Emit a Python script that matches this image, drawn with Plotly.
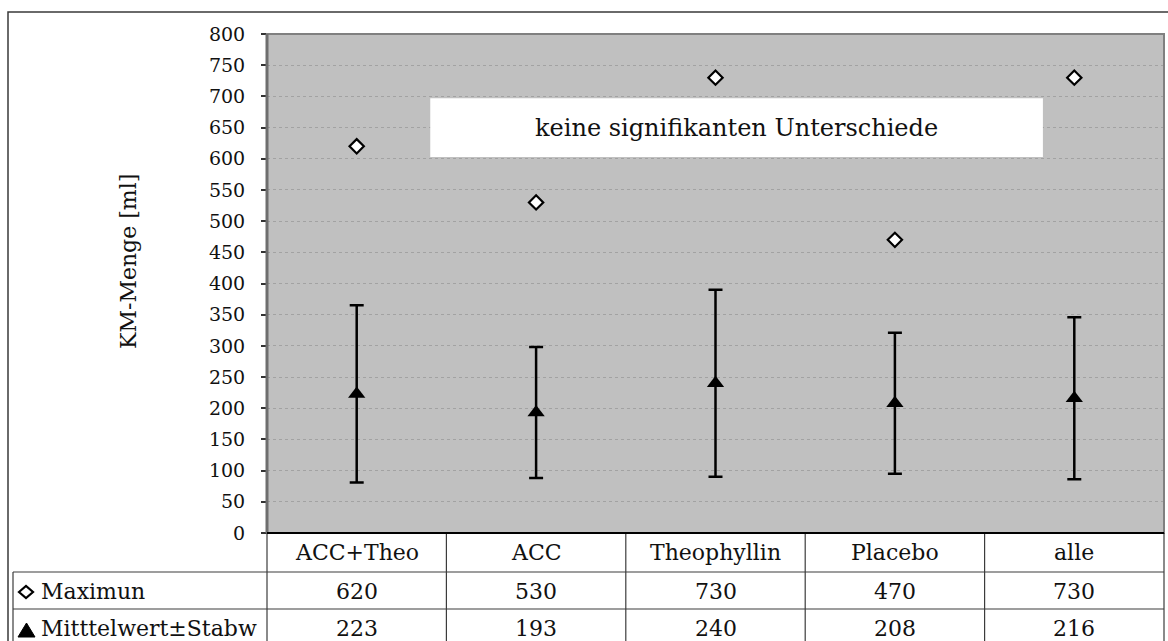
import plotly.graph_objects as go

# Gruppen und Kennwerte der KM-Menge [ml]
categories = ["ACC+Theo", "ACC", "Theophyllin", "Placebo", "alle"]
maximum = [620, 530, 730, 470, 730]
mean = [223, 193, 240, 208, 216]
sd = [142, 105, 150, 113, 130]

row_labels = ["Maximun", "Mitttelwert±Stabw"]
y_ticks = list(range(0, 801, 50))

W, H = 1168, 641
L, R, T, B = 267, 1164, 34, 533   # plot area in pixels
FONT = "DejaVu Serif, Georgia, serif"


def xp(px):
    return (px - L) / (R - L)


def yp(py):
    return (B - py) / (B - T)


xs = list(range(len(categories)))

fig = go.Figure()

fig.add_trace(go.Scatter(
    x=xs, y=mean, mode="markers", name="Mittelwert±Stabw",
    marker=dict(symbol="triangle-up", size=15, color="black"),
    error_y=dict(type="data", array=sd, visible=True,
                 color="black", thickness=2.5, width=7),
))
fig.add_trace(go.Scatter(
    x=xs, y=maximum, mode="markers", name="Maximun",
    marker=dict(symbol="diamond", size=11, color="white",
                line=dict(color="black", width=2.2)),
))

shapes = []
annotations = []

# outer frame of the chart
shapes.append(dict(type="rect", xref="paper", yref="paper",
                   x0=xp(8), x1=xp(1180), y0=yp(12), y1=yp(660),
                   line=dict(color="#3a3a3a", width=1.5), layer="below"))

# white note box
shapes.append(dict(type="rect", xref="x", yref="y",
                   x0=0.41, x1=3.825, y0=603, y1=697,
                   fillcolor="white", line=dict(width=0), layer="above"))
annotations.append(dict(x=2.117, y=650, xref="x", yref="y",
                        xanchor="center", yanchor="middle",
                        text="keine signifikanten Unterschiede",
                        showarrow=False,
                        font=dict(family=FONT, size=24, color="#111")))

# plot area border
shapes.append(dict(type="rect", xref="paper", yref="paper",
                   x0=0, x1=1, y0=0, y1=1,
                   line=dict(color="#808080", width=2)))
shapes.append(dict(type="line", xref="paper", yref="paper",
                   x0=0, x1=0, y0=0, y1=1,
                   line=dict(color="#6e6e6e", width=3)))

# data table below the plot
row_bounds = [533, 572, 609, 660]
col_w = (R - L) / len(categories)
col_edges = [L + i * col_w for i in range(len(categories) + 1)]
line_style = dict(color="#3c3c3c", width=1.2)

for yb in row_bounds[1:3]:
    shapes.append(dict(type="line", xref="paper", yref="paper",
                       x0=xp(13), x1=xp(R), y0=yp(yb), y1=yp(yb),
                       line=line_style))
shapes.append(dict(type="line", xref="paper", yref="paper",
                   x0=xp(13), x1=xp(13), y0=yp(572), y1=yp(660),
                   line=line_style))
for xe in col_edges:
    shapes.append(dict(type="line", xref="paper", yref="paper",
                       x0=xp(xe), x1=xp(xe), y0=yp(533), y1=yp(660),
                       line=line_style))
# x axis line
shapes.append(dict(type="line", xref="paper", yref="paper",
                   x0=0, x1=1, y0=0, y1=0,
                   line=dict(color="black", width=2)))

row_centers = [552.5, 591, 628]
table_font = dict(family=FONT, size=22, color="#111")

for i, cat in enumerate(categories):
    cx = xp(col_edges[i] + col_w / 2)
    for text, yc in ((cat, row_centers[0]),
                     (str(maximum[i]), row_centers[1]),
                     (str(mean[i]), row_centers[2])):
        annotations.append(dict(x=cx, y=yp(yc), xref="paper", yref="paper",
                                xanchor="center", yanchor="middle",
                                text=text, showarrow=False, font=table_font))

for lab, yc in zip(row_labels, row_centers[1:]):
    annotations.append(dict(x=xp(39), y=yp(yc), xref="paper", yref="paper",
                            xanchor="left", yanchor="middle", text=lab,
                            showarrow=False, font=table_font))

# legend keys inside the table
shapes.append(dict(type="path", xref="paper", yref="paper",
                   xsizemode="pixel", ysizemode="pixel",
                   xanchor=xp(26), yanchor=yp(592),
                   path="M-7,0 L0,6 L7,0 L0,-6 Z",
                   fillcolor="white", line=dict(color="black", width=2.2)))
shapes.append(dict(type="path", xref="paper", yref="paper",
                   xsizemode="pixel", ysizemode="pixel",
                   xanchor=xp(26.5), yanchor=yp(630),
                   path="M-8.5,-7 L8.5,-7 L0,7 Z",
                   fillcolor="black", line=dict(color="black", width=1)))

# y axis title
annotations.append(dict(x=xp(128), y=yp(262), xref="paper", yref="paper",
                        xanchor="center", yanchor="middle",
                        text="KM-Menge [ml]", textangle=-90, showarrow=False,
                        font=dict(family=FONT, size=22, color="#111")))

fig.update_layout(
    width=W, height=H,
    margin=dict(l=L, r=W - R, t=T, b=H - B, pad=0),
    paper_bgcolor="white",
    plot_bgcolor="#c0c0c0",
    showlegend=False,
    shapes=shapes,
    annotations=annotations,
    xaxis=dict(range=[-0.5, len(categories) - 0.5], showticklabels=False,
               showgrid=False, zeroline=False, ticks=""),
    yaxis=dict(range=[0, 800], tickvals=y_ticks, ticks="outside", ticklen=5,
               tickwidth=1.5, tickcolor="#333", ticklabelstandoff=12,
               tickfont=dict(family=FONT, size=19, color="#111"),
               showgrid=True, gridcolor="#a2a2a2", griddash="dot", gridwidth=1,
               zeroline=False),
)

fig.write_html("out.html")
